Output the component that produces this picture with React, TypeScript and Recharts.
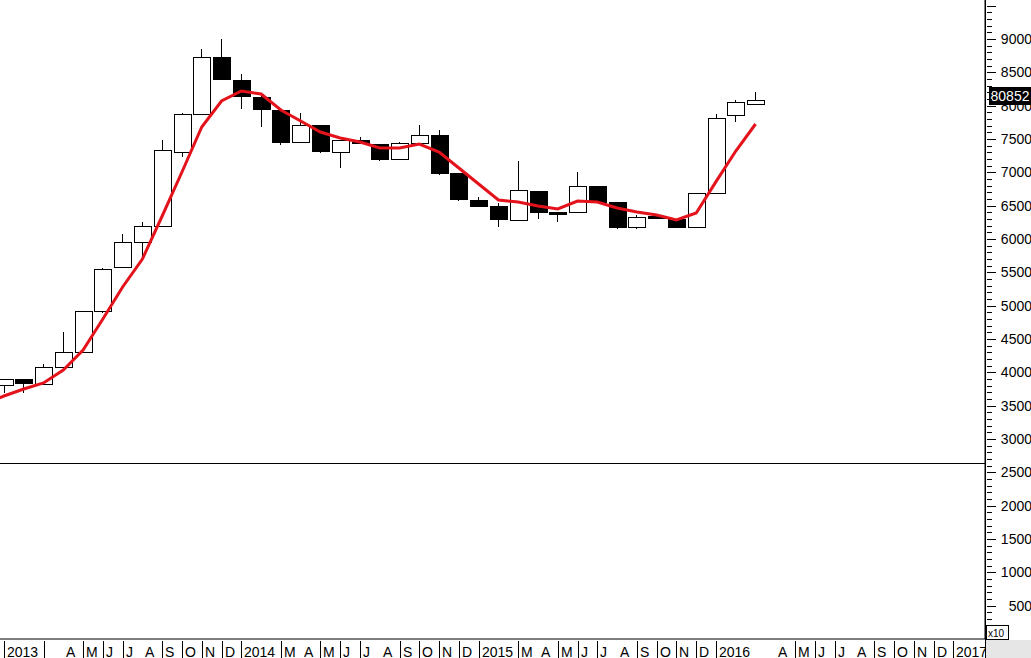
import React from "react";
import { ComposedChart, Bar, Line, XAxis, YAxis, ReferenceLine } from "recharts";

// monthly candles, Jan 2013 .. Mar 2016 (values shown x10 on the axis)
const opens = [3810, 3900, 3825, 4080, 4305, 4920, 5580, 5955, 6195, 7305, 7875, 8730, 8385, 8130, 7935, 7455, 7710, 7305, 7485, 7425, 7200, 7440, 7560, 6990, 6585, 6495, 6285, 6720, 6405, 6405, 6795, 6555, 6180, 6350, 6300, 6180, 6690, 7860, 8020];
const highs = [3900, 3900, 4125, 4605, 4920, 5565, 6075, 6255, 7485, 7890, 8850, 9000, 8475, 8160, 7950, 7890, 7710, 7485, 7530, 7425, 7455, 7710, 7635, 6990, 6630, 6540, 7170, 6720, 6405, 7005, 6795, 6555, 6360, 6370, 6300, 6690, 7875, 8085, 8205];
const lows = [3690, 3690, 3825, 4080, 4305, 4890, 5580, 5730, 6195, 7230, 7875, 8400, 7950, 7680, 7410, 7455, 7290, 7065, 7440, 7170, 7200, 7440, 6960, 6570, 6495, 6180, 6285, 6300, 6255, 6405, 6555, 6150, 6150, 6300, 6180, 6180, 6690, 7755, 8020];
const closes = [3900, 3840, 4080, 4305, 4920, 5550, 5955, 6195, 7335, 7875, 8730, 8400, 8145, 7950, 7455, 7710, 7320, 7485, 7440, 7200, 7440, 7560, 6990, 6600, 6495, 6300, 6735, 6405, 6375, 6795, 6555, 6180, 6330, 6320, 6180, 6690, 7815, 8055, 8085.2];
// moving average, Dec 2012 .. Mar 2016 (one month more than the candles)
const movingAvg = [3530, 3645, 3750, 3840, 4035, 4335, 4800, 5280, 5700, 6345, 7005, 7680, 8070, 8220, 8175, 7935, 7770, 7605, 7515, 7455, 7365, 7365, 7425, 7305, 7065, 6825, 6585, 6555, 6495, 6450, 6570, 6555, 6465, 6405, 6360, 6285, 6390, 6860, 7320, 7725];

const monthLabels = ["2013", "", "", "A", "M", "J", "J", "A", "S", "O", "N", "D", "2014", "", "M", "A", "M", "J", "J", "A", "S", "O", "N", "D", "2015", "", "M", "A", "M", "J", "J", "A", "S", "O", "N", "D", "2016", "", "", "A", "M", "J", "J", "A", "S", "O", "N", "D", "2017"];
const monthSeparators = [1, 0, 1, 0, 1, 1, 1, 0, 1, 1, 1, 1, 1, 0, 1, 0, 1, 1, 1, 0, 1, 1, 1, 1, 1, 0, 1, 0, 1, 1, 1, 0, 1, 1, 1, 1, 1, 0, 0, 0, 1, 1, 1, 0, 1, 1, 1, 1, 1];
const priceTicks = Array.from({ length: 95 }, (_, i) => (i + 1) * 100);
const lastValue = 8085.2;
const lastLabel = "80852";
const marker = 2630;

const data = movingAvg.map((m, k) => {
  const i = k - 1;
  return {
    i,
    open: opens[i],
    high: highs[i],
    low: lows[i],
    close: closes[i],
    ma: m,
  };
});

const W = 1031;
const H = 658;
const X_MIN = -0.2;
const X_MAX = 49.6;
const FONT = "'Liberation Sans', Arial, sans-serif";

const Candle = (props: any) => {
  const { x, y, width, height } = props;
  const p = props.payload ?? props;
  if (!p || p.open == null || height == null || isNaN(y)) return null;
  const span = p.high - p.low || 1;
  const py = (v: number) => y + ((p.high - v) / span) * height;
  const cx = Math.round(x + width / 2) + 0.5;
  const up = p.close >= p.open;
  const top = Math.round(py(Math.max(p.open, p.close))) + 0.5;
  const bot = Math.round(py(Math.min(p.open, p.close))) + 0.5;
  return (
    <g shapeRendering="crispEdges">
      <line x1={cx} x2={cx} y1={Math.round(y)} y2={Math.round(y + height)} stroke="#000" />
      <rect x={cx - 8.5} y={top} width={17} height={Math.max(bot - top, 1)} fill={up ? "#fff" : "#000"} stroke="#000" />
    </g>
  );
};

const MonthTick = (props: any) => {
  const { x, y, payload } = props;
  const i = payload.value;
  const px = Math.round(x) + 0.5;
  return (
    <g>
      {monthSeparators[i] ? <line x1={px} x2={px} y1={y} y2={H} stroke="#000" shapeRendering="crispEdges" /> : null}
      {monthLabels[i] ? (
        <text x={px + 2.5} y={y + 16} fontSize={14} fill="#000" fontFamily={FONT}>
          {monthLabels[i]}
        </text>
      ) : null}
    </g>
  );
};

const PriceTick = (props: any) => {
  const { x, y, payload } = props;
  const v = payload.value;
  const major = v % 500 === 0;
  const py = Math.round(y) + 0.5;
  return (
    <g>
      <line x1={x} x2={x + (major ? 9 : 5)} y1={py} y2={py} stroke="#000" shapeRendering="crispEdges" />
      {major && v < 9500 ? (
        <text x={x + 45} y={y} dy="0.36em" textAnchor="end" fontSize={14} fill="#000" fontFamily={FONT}>
          {v}
        </text>
      ) : null}
    </g>
  );
};

const LastValueLabel = (props: any) => {
  const vb = props.viewBox;
  if (!vb) return null;
  const left = vb.x + vb.width + 4;
  return (
    <g>
      <rect x={left} y={vb.y - 13} width={42} height={18} fill="#000" />
      <text x={left + 21} y={vb.y + 1} textAnchor="middle" fontSize={14} fill="#fff" fontFamily={FONT}>
        {lastLabel}
      </text>
    </g>
  );
};

export default function App() {
  return (
    <div style={{ position: "absolute", left: 0, top: 0, width: W, height: H, background: "#fff", fontFamily: FONT }}>
      <ComposedChart width={W} height={H} data={data} margin={{ top: 0, right: 0, bottom: 0, left: 0 }}>
        <XAxis
          dataKey="i"
          type="number"
          domain={[X_MIN, X_MAX]}
          allowDataOverflow
          ticks={monthLabels.map((_, i) => i)}
          interval={0}
          tick={<MonthTick />}
          tickLine={false}
          tickSize={0}
          height={19}
          axisLine={{ stroke: "#000" }}
        />
        <YAxis
          orientation="right"
          type="number"
          domain={[0, 9585]}
          allowDataOverflow
          ticks={priceTicks}
          interval={0}
          tick={<PriceTick />}
          tickLine={false}
          tickSize={0}
          width={46}
          axisLine={{ stroke: "#000" }}
        />
        <ReferenceLine y={marker} stroke="#000" strokeWidth={1} shapeRendering="crispEdges" />
        <Bar
          dataKey={(d: any) => (d.open == null ? null : [d.low, d.high])}
          barSize={17}
          shape={<Candle />}
          isAnimationActive={false}
        />
        <Line type="linear" dataKey="ma" stroke="#e3121b" strokeWidth={3} dot={false} activeDot={false} isAnimationActive={false} />
        <ReferenceLine y={lastValue} stroke="none" label={<LastValueLabel />} />
      </ComposedChart>
      <svg width={W} height={H} style={{ position: "absolute", left: 0, top: 0, pointerEvents: "none" }}>
        <rect x={985} y={640} width={46} height={18} fill="#e6e6e6" />
        <line x1={985.5} x2={985.5} y1={0} y2={H} stroke="#000" shapeRendering="crispEdges" />
        <rect x={986.5} y={625.5} width={22} height={14} fill="#fff" stroke="#000" shapeRendering="crispEdges" />
        <text x={988} y={637} fontSize={10} fill="#000" fontFamily={FONT}>
          x10
        </text>
      </svg>
    </div>
  );
}
